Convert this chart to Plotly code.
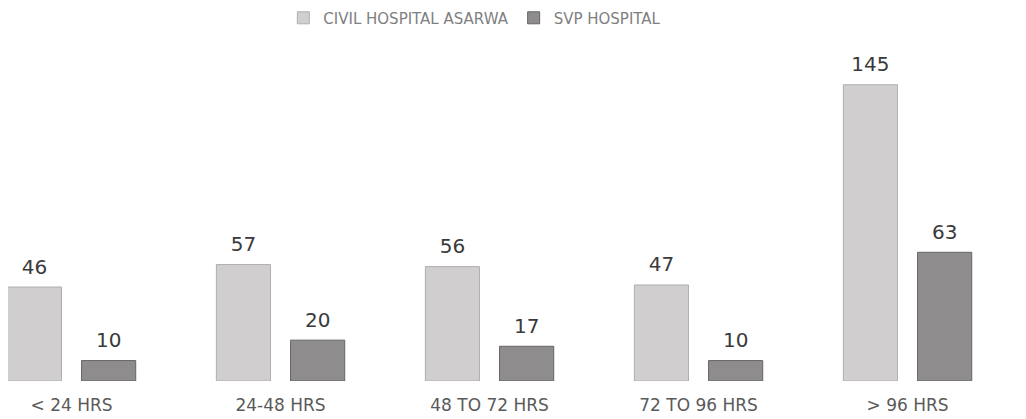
import plotly.graph_objects as go

categories = ["< 24 HRS", "24-48 HRS", "48 TO 72 HRS", "72 TO 96 HRS", "> 96 HRS"]
civil = [46, 57, 56, 47, 145]
svp = [10, 20, 17, 10, 63]
series_names = ["CIVIL HOSPITAL ASARWA", "SVP HOSPITAL"]

xpos = list(range(len(categories)))

value_font = dict(family="DejaVu Sans", size=20, color="#3a3a3a")
bar_styles = [
    dict(color="#d0cece", line=dict(color="#b0aeae", width=1)),
    dict(color="#8e8c8c", line=dict(color="#666464", width=1)),
]

fig = go.Figure()
for name, vals, style in zip(series_names, [civil, svp], bar_styles):
    fig.add_trace(go.Bar(x=xpos, y=vals, name=name, marker=style))
# value labels, grouped with the bars
for name, vals in zip(series_names, [civil, svp]):
    fig.add_trace(go.Scatter(
        x=xpos, y=vals, mode="markers+text", text=[str(v) for v in vals],
        textposition="top center", textfont=value_font, showlegend=False,
        marker=dict(size=12, opacity=0), hoverinfo="skip", cliponaxis=False,
    ))

fig.update_layout(
    width=1026, height=419,
    paper_bgcolor="white", plot_bgcolor="white",
    margin=dict(l=0, r=0, t=40, b=46, autoexpand=False),
    barmode="group", bargap=0.29, bargroupgap=0.27,
    scattermode="group", scattergap=0.29,
    showlegend=True,
    legend=dict(orientation="h", x=0.455, xanchor="center",
                y=0.976, yref="container", yanchor="middle",
                font=dict(family="DejaVu Sans", size=15, color="#808080"),
                itemwidth=30, traceorder="normal"),
    font=dict(family="DejaVu Sans", color="#555555"),
)
fig.update_xaxes(
    range=[-0.304, 4.605], tickvals=xpos, ticktext=categories,
    showgrid=False, zeroline=False, showline=False, ticks="",
    ticklabelstandoff=12,
    tickfont=dict(family="DejaVu Sans", size=17, color="#5a5a5a"),
)
fig.update_yaxes(range=[0, 163], visible=False, showgrid=False, zeroline=False)

fig.write_html("out.html")
